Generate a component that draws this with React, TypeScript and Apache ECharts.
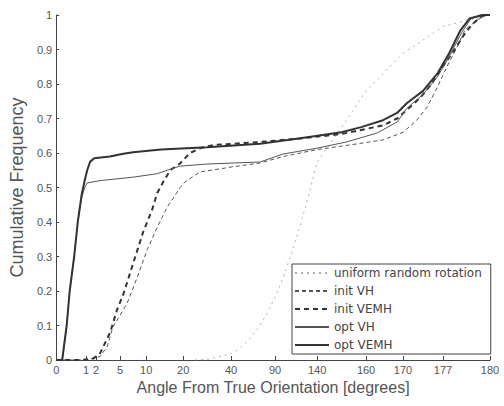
import React, { useEffect, useRef } from "react";
import * as echarts from "echarts";

// Axis: non-linear angle scale, tick angles and their axis positions
const tickAngles = [0, 1, 2, 5, 10, 20, 40, 90, 140, 160, 170, 177, 180];
const tickAxisPos = [0, 30, 40, 64, 90, 127, 175, 219, 261, 310, 347, 387, 434];
const yTicks = [0, 0.1, 0.2, 0.3, 0.4, 0.5, 0.6, 0.7, 0.8, 0.9, 1];

// Series: [angle (degrees), cumulative frequency]
const uniformRandom: [number, number][] = [
  [25, 0], [30, 0.002], [40, 0.018], [50, 0.034], [60, 0.058], [70, 0.09], [80, 0.131],
  [90, 0.182], [100, 0.242], [110, 0.312], [120, 0.391], [130, 0.478], [140, 0.573],
  [150, 0.674], [155, 0.727], [160, 0.78], [165, 0.834], [170, 0.889], [173, 0.922],
  [175, 0.944], [177, 0.967], [178, 0.978], [179, 0.989], [180, 1],
];

const initVH: [number, number][] = [
  [0, 0], [1, 0], [2.5, 0.01], [3.4, 0.04], [4.1, 0.096], [5, 0.13], [6.35, 0.165],
  [8.3, 0.24], [10.3, 0.32], [13, 0.385], [15.7, 0.443], [19.2, 0.5], [20.8, 0.516],
  [27, 0.545], [42, 0.56], [73, 0.571], [100, 0.59], [140, 0.61], [155, 0.625],
  [164.6, 0.638], [170, 0.66], [172.4, 0.695], [174.2, 0.733], [176, 0.79],
  [177.25, 0.85], [177.9, 0.907], [178.4, 0.957], [179.2, 0.986], [179.8, 1], [180, 1],
];

const initVEMH: [number, number][] = [
  [0, 0], [0.8, 0], [1.7, 0.004], [2.5, 0.02], [3.75, 0.08], [4.6, 0.145], [5.6, 0.19],
  [7.5, 0.28], [9.4, 0.37], [11.6, 0.435], [13, 0.484], [14.6, 0.516], [16.5, 0.55],
  [19.2, 0.57], [22.9, 0.6], [27, 0.614], [32.5, 0.623], [73, 0.632], [120, 0.642],
  [150, 0.655], [164.6, 0.68], [168.4, 0.7], [171, 0.73], [173, 0.76], [175, 0.8],
  [176.5, 0.84], [177.6, 0.89], [178.3, 0.94], [178.9, 0.975], [179.6, 1], [180, 1],
];

const optVH: [number, number][] = [
  [0, 0], [0.2, 0], [0.35, 0.1], [0.45, 0.2], [0.6, 0.3], [0.72, 0.4], [0.85, 0.47],
  [0.95, 0.5], [1.1, 0.513], [2.5, 0.52], [7.5, 0.53], [13, 0.54], [15.7, 0.55],
  [19.2, 0.562], [30, 0.568], [73, 0.574], [99.5, 0.597], [140, 0.614], [152, 0.632],
  [163, 0.658], [168.4, 0.69], [170.7, 0.73], [173.5, 0.77], [176, 0.82], [177.4, 0.88],
  [178.2, 0.95], [178.8, 0.99], [179.6, 1], [180, 1],
];

const optVEMH: [number, number][] = [
  [0, 0], [0.2, 0], [0.35, 0.1], [0.45, 0.2], [0.6, 0.3], [0.72, 0.4], [0.85, 0.48],
  [0.95, 0.52], [1.1, 0.55], [1.4, 0.575], [1.8, 0.585], [3.7, 0.59], [5.6, 0.598],
  [7.5, 0.602], [14, 0.61], [30, 0.617], [73, 0.627], [120, 0.643], [150, 0.66],
  [158, 0.675], [164.6, 0.695], [168.4, 0.716], [170.7, 0.745], [173.5, 0.78],
  [176, 0.83], [177.4, 0.89], [178.1, 0.955], [178.7, 0.99], [179.5, 1], [180, 1],
];

const seriesNames = ["uniform random rotation", "init VH", "init VEMH", "opt VH", "opt VEMH"];

function angleToAxis(a: number): number {
  for (let i = 1; i < tickAngles.length; i++) {
    if (a <= tickAngles[i]) {
      const a0 = tickAngles[i - 1];
      const a1 = tickAngles[i];
      const p0 = tickAxisPos[i - 1];
      const p1 = tickAxisPos[i];
      return p0 + ((a - a0) / (a1 - a0)) * (p1 - p0);
    }
  }
  return tickAxisPos[tickAxisPos.length - 1];
}

const toXY = (d: [number, number][]) => d.map(([a, f]) => [angleToAxis(a), f]);

export default function App() {
  const ref = useRef<HTMLDivElement>(null);
  useEffect(() => {
    if (!ref.current) return;
    const chart = echarts.init(ref.current, undefined, { renderer: "svg" });
    const axisColor = "#444";
    const textColor = "#555";
    const font = "'Liberation Sans', Arial, sans-serif";
    chart.setOption({
      animation: false,
      backgroundColor: "#fff",
      grid: { left: 56, right: 14, top: 15, bottom: 46, containLabel: false },
      xAxis: {
        type: "value",
        min: 0,
        max: tickAxisPos[tickAxisPos.length - 1],
        name: "Angle From True Orientation [degrees]",
        nameLocation: "middle",
        nameGap: 17,
        nameTextStyle: { fontSize: 16, color: textColor, fontFamily: font },
        axisLine: { show: true, lineStyle: { color: axisColor, width: 1 } },
        axisTick: {
          show: true,
          inside: true,
          length: 4,
          customValues: tickAxisPos,
          lineStyle: { color: axisColor },
        },
        axisLabel: {
          show: true,
          customValues: tickAxisPos,
          margin: 4,
          fontSize: 11,
          color: textColor,
          fontFamily: font,
          formatter: (v: number) => {
            const i = tickAxisPos.findIndex((p) => Math.abs(p - v) < 0.01);
            return i >= 0 ? String(tickAngles[i]) : "";
          },
        },
        splitLine: { show: false },
      },
      yAxis: {
        type: "value",
        min: 0,
        max: 1,
        interval: 0.1,
        name: "Cumulative Frequency",
        nameLocation: "middle",
        nameGap: 27,
        nameTextStyle: { fontSize: 18, color: textColor, fontFamily: font },
        axisLine: { show: true, lineStyle: { color: axisColor, width: 1 } },
        axisTick: { show: true, inside: true, length: 3, lineStyle: { color: axisColor } },
        axisLabel: {
          margin: 4,
          fontSize: 11,
          color: textColor,
          fontFamily: font,
          formatter: (v: number) => {
            const t = yTicks.find((y) => Math.abs(y - v) < 1e-6);
            if (t === undefined) return "";
            return t === 0 ? "0" : t === 1 ? "1" : t.toFixed(1);
          },
        },
        splitLine: { show: false },
      },
      legend: {
        orient: "vertical",
        left: 292,
        top: 264,
        data: seriesNames,
        itemWidth: 34,
        itemHeight: 12,
        itemGap: 6,
        padding: [3, 9, 3, 2],
        backgroundColor: "#fff",
        borderColor: axisColor,
        borderWidth: 1,
        borderRadius: 0,
        itemStyle: { opacity: 0 },
        textStyle: { fontSize: 12, color: "#444", fontFamily: "'DejaVu Sans', sans-serif" },
      },
      series: [
        {
          name: seriesNames[0],
          type: "line",
          data: toXY(uniformRandom),
          symbol: "none",
          z: 1,
          lineStyle: { color: "#b0b0b0", width: 1, type: [2, 4] },
          itemStyle: { color: "#b0b0b0" },
        },
        {
          name: seriesNames[1],
          type: "line",
          data: toXY(initVH),
          symbol: "none",
          lineStyle: { color: "#555", width: 1, type: [4, 3] },
          itemStyle: { color: "#555" },
        },
        {
          name: seriesNames[2],
          type: "line",
          data: toXY(initVEMH),
          symbol: "none",
          lineStyle: { color: "#333", width: 2, type: [5, 4] },
          itemStyle: { color: "#333" },
        },
        {
          name: seriesNames[3],
          type: "line",
          data: toXY(optVH),
          symbol: "none",
          lineStyle: { color: "#555", width: 1 },
          itemStyle: { color: "#555" },
        },
        {
          name: seriesNames[4],
          type: "line",
          data: toXY(optVEMH),
          symbol: "none",
          lineStyle: { color: "#333", width: 2 },
          itemStyle: { color: "#333" },
        },
      ],
    });
    return () => chart.dispose();
  }, []);
  return (
    <div
      ref={ref}
      style={{ position: "fixed", left: 0, top: 0, width: 504, height: 406 }}
    />
  );
}
